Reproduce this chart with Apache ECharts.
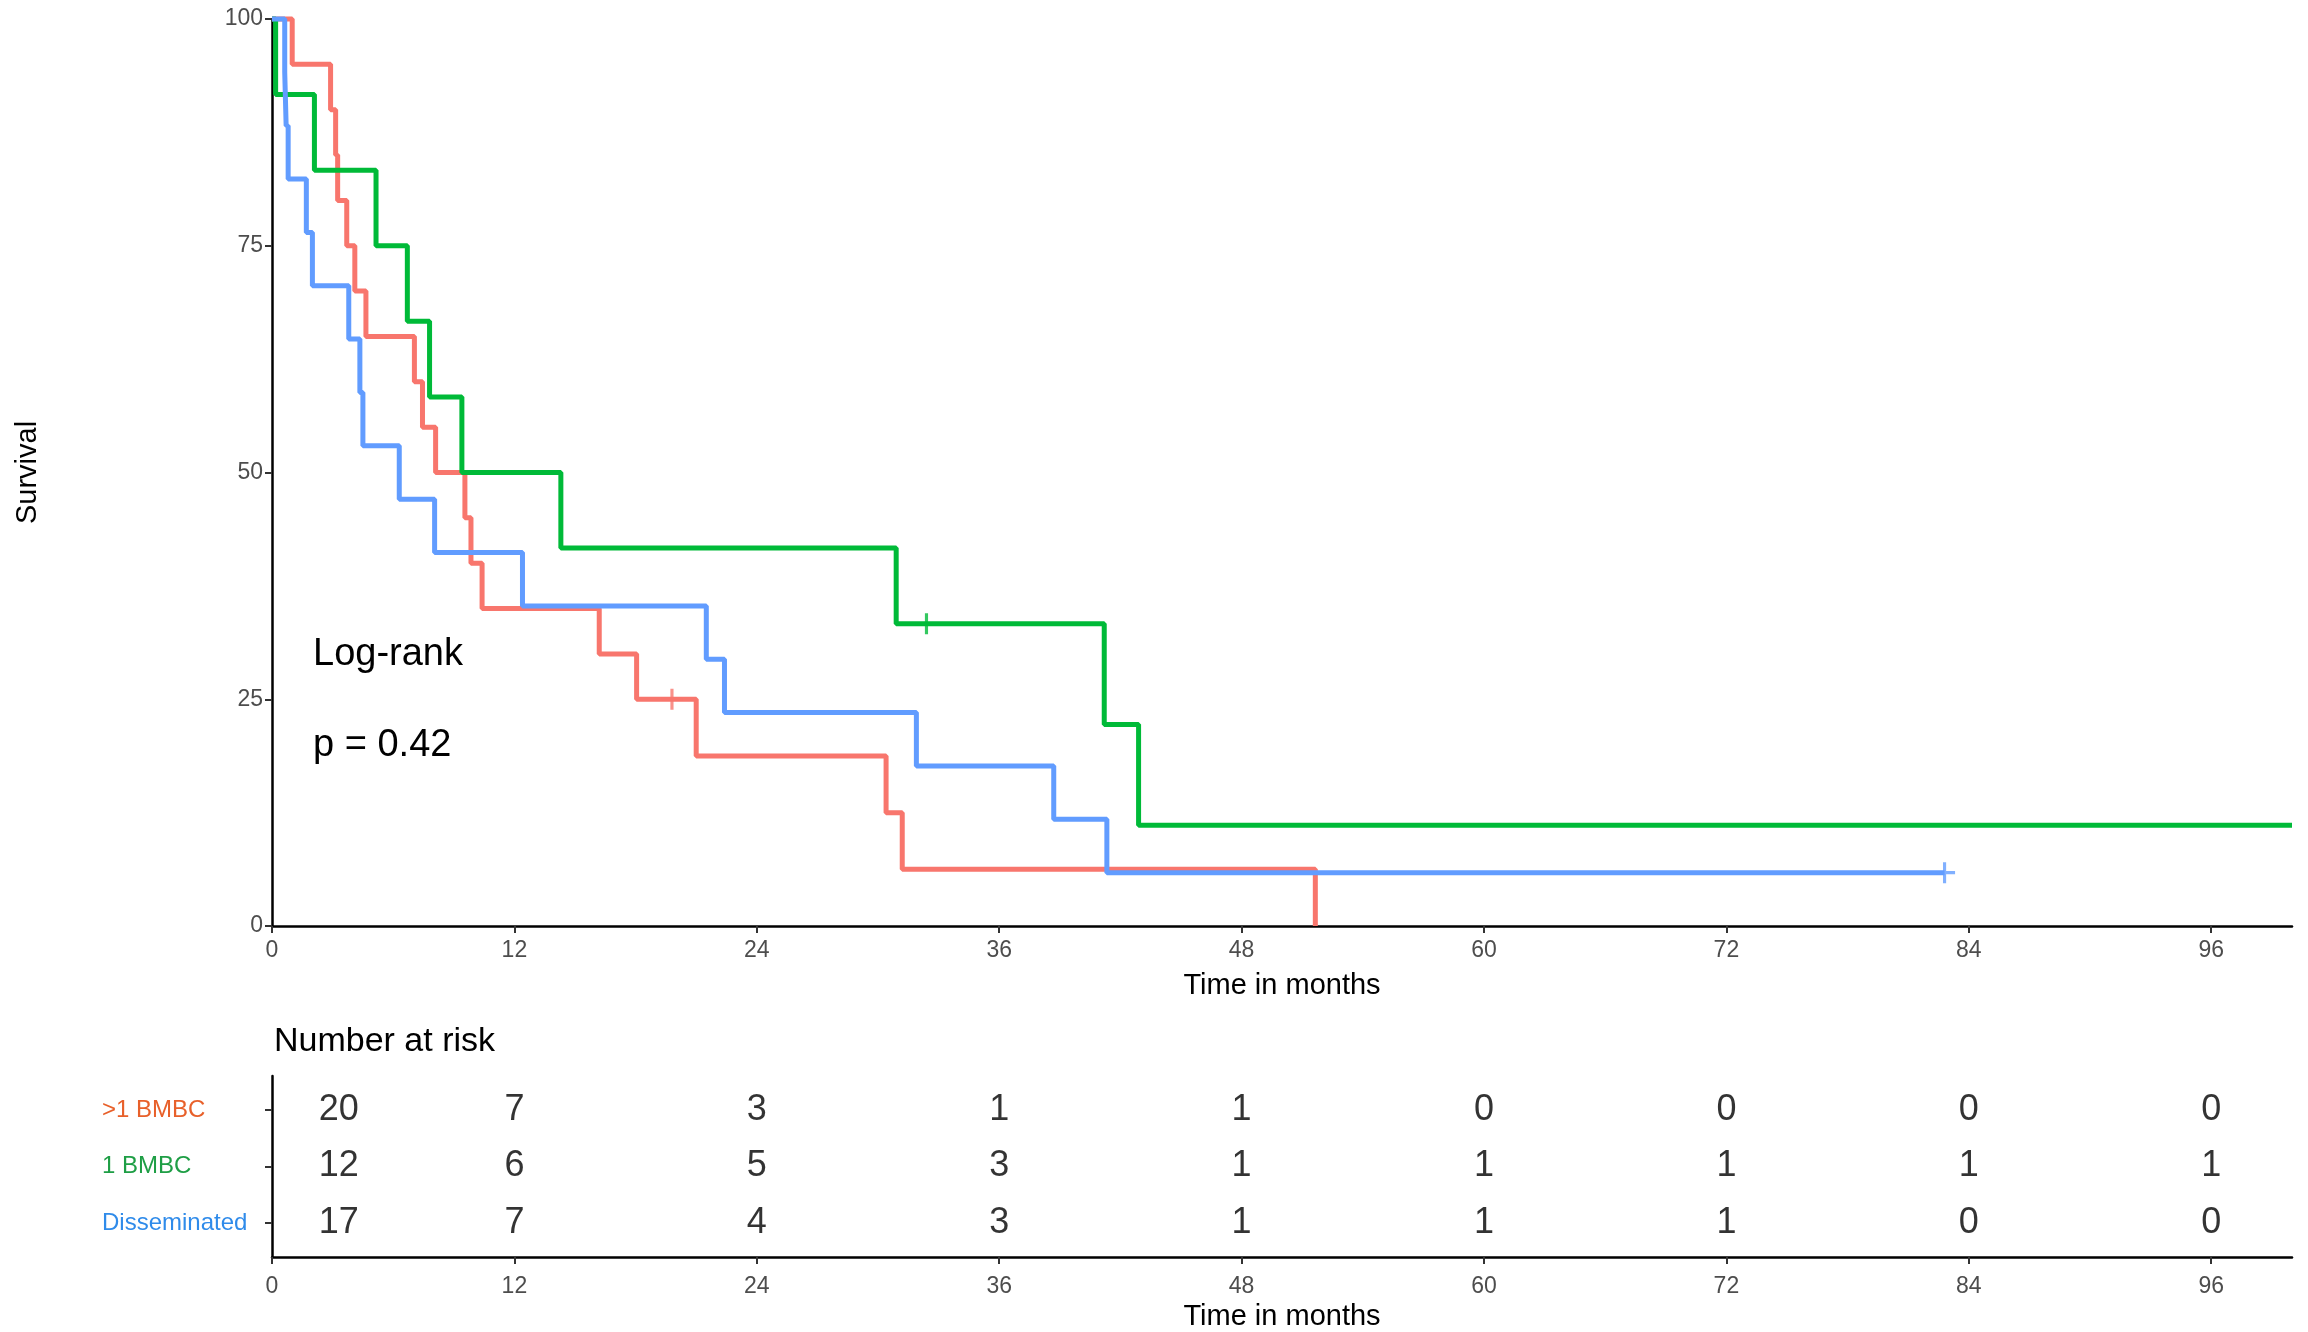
<!DOCTYPE html>
<html>
<head>
<meta charset="utf-8">
<script src="https://cdn.jsdelivr.net/npm/echarts@6/dist/echarts.min.js"></script>
<style>
  html, body { margin: 0; padding: 0; background: #fff; }
  #chart { width: 2308px; height: 1332px; }
</style>
</head>
<body>
<div id="chart"></div>
<script>
// Kaplan-Meier steps: [month, survival %] after each drop
const stepsMulti = [[0,100],[1.0,95],[2.9,90],[3.15,85],[3.25,80],[3.7,75],[4.1,70],[4.65,65],
  [7.05,60],[7.45,55],[8.1,50],[9.55,45],[9.85,40],[10.4,35],[16.2,30],[18.05,25],[21.0,18.75],
  [30.4,12.5],[31.2,6.25],[51.65,0]]
const stepsSingle = [[0,100],[0.18,91.67],[2.1,83.33],[5.15,75],[6.7,66.67],[7.8,58.33],[9.4,50],
  [14.3,41.67],[30.9,33.33],[41.2,22.22],[42.9,11.11],[100,11.11]]
const stepsDissem = [[0,100],[0.63,94.12],[0.7,88.24],[0.8,82.35],[1.7,76.47],[2.0,70.59],[3.8,64.71],
  [4.35,58.82],[4.5,52.94],[6.3,47.06],[8.05,41.18],[12.4,35.29],[21.5,29.41],[22.4,23.53],
  [31.9,17.65],[38.7,11.76],[41.33,5.88],[82.8,5.88]]

// censored observations
const censorMulti = [[19.8,25]]
const censorSingle = [[32.4,33.33]]
const censorDissem = [[82.8,5.88]]

// number at risk table (row 3 = top)
const groups = ['>1 BMBC', '1 BMBC', 'Disseminated']
const groupRow = [3, 2, 1]
const riskX = [3.3, 12, 24, 36, 48, 60, 72, 84, 96]
const riskMulti = [20, 7, 3, 1, 1, 0, 0, 0, 0]
const riskSingle = [12, 6, 5, 3, 1, 1, 1, 1, 1]
const riskDissem = [17, 7, 4, 3, 1, 1, 1, 0, 0]

const xTicks = [0, 12, 24, 36, 48, 60, 72, 84, 96]
const yTicks = [0, 25, 50, 75, 100]

const curveColors = ['#F8766D', '#00BA38', '#619CFF']
const labelColors = ['#E8602A', '#1E9E45', '#2F8BEA']

const plus = 'path://M-1.2,-8H1.2V-1.2H8V1.2H1.2V8H-1.2V1.2H-8V-1.2H-1.2Z'
const font = 'Liberation Sans, Arial, sans-serif'

const axisLine = { show: true, lineStyle: { color: '#000', width: 2.5 } }
const axisTick = { show: true, length: 7, lineStyle: { color: '#333', width: 2 } }

const xAxisFor = (grid, gap, labelMargin) => ({
    gridIndex: grid,
    type: 'value',
    min: 0,
    max: 100,
    interval: 12,
    name: 'Time in months',
    nameLocation: 'middle',
    nameGap: gap,
    nameTextStyle: { fontFamily: font, fontSize: 29, color: '#000' },
    axisLine: axisLine,
    axisTick: Object.assign({ customValues: xTicks }, axisTick),
    axisLabel: { customValues: xTicks, fontFamily: font, fontSize: 23, color: '#4D4D4D', margin: labelMargin },
    splitLine: { show: false }
})

const stepSeries = (name, data, color) => ({
    name: name,
    type: 'line',
    step: 'end',
    data: data,
    showSymbol: false,
    clip: false,
    lineStyle: { color: color, width: 5 },
    xAxisIndex: 0,
    yAxisIndex: 0,
    z: 3
})

const censorSeries = (data, color) => ({
    type: 'scatter',
    data: data,
    symbol: plus,
    symbolSize: 21,
    itemStyle: { color: color },
    xAxisIndex: 0,
    yAxisIndex: 0,
    z: 4
})

const riskRows = [riskMulti, riskSingle, riskDissem]
const riskData = []
riskRows.forEach((row, g) => {
    row.forEach((n, i) => riskData.push([riskX[i], groupRow[g], n]))
})

const rowName = (v) => groups[groupRow.indexOf(Number(v))] || ''

const option = {
    animation: false,
    backgroundColor: '#fff',
    grid: [
        { left: 272, top: 19, width: 2020, height: 907 },
        { left: 272, top: 1076, width: 2020, height: 189 }
    ],
    xAxis: [
        xAxisFor(0, 45, 13),
        xAxisFor(1, 45, 18)
    ],
    yAxis: [
        {
            gridIndex: 0,
            type: 'value',
            min: 0,
            max: 100,
            interval: 25,
            name: 'Survival',
            nameLocation: 'middle',
            nameRotate: 90,
            nameGap: 230,
            nameTextStyle: { fontFamily: font, fontSize: 29, color: '#000' },
            axisLine: axisLine,
            axisTick: axisTick,
            axisLabel: { customValues: yTicks, fontFamily: font, fontSize: 23, color: '#4D4D4D', margin: 9 },
            splitLine: { show: false }
        },
        {
            gridIndex: 1,
            type: 'value',
            min: 0.4,
            max: 3.6,
            axisLine: axisLine,
            axisTick: Object.assign({ customValues: groupRow }, axisTick),
            axisLabel: {
                customValues: groupRow,
                formatter: rowName,
                fontFamily: font,
                fontSize: 24,
                align: 'left',
                margin: 170,
                color: (v) => labelColors[groupRow.indexOf(Number(v))]
            },
            splitLine: { show: false }
        }
    ],
    graphic: [
        { type: 'text', left: 313, top: 636, style: { text: 'Log-rank', fontFamily: font, fontSize: 38, fill: '#000' } },
        { type: 'text', left: 313, top: 727, style: { text: 'p = 0.42', fontFamily: font, fontSize: 38, fill: '#000' } },
        { type: 'text', left: 274, top: 1025, style: { text: 'Number at risk', fontFamily: font, fontSize: 34, fill: '#000' } }
    ],
    series: [
        stepSeries('>1 BMBC', stepsMulti, curveColors[0]),
        stepSeries('1 BMBC', stepsSingle, curveColors[1]),
        stepSeries('Disseminated', stepsDissem, curveColors[2]),
        censorSeries(censorMulti, curveColors[0]),
        censorSeries(censorSingle, curveColors[1]),
        censorSeries(censorDissem, curveColors[2]),
        {
            type: 'scatter',
            xAxisIndex: 1,
            yAxisIndex: 1,
            data: riskData,
            symbolSize: 1,
            itemStyle: { color: 'rgba(0,0,0,0)' },
            label: {
                show: true,
                position: 'inside',
                formatter: (p) => String(p.value[2]),
                fontFamily: font,
                fontSize: 36,
                color: '#000',
                textBorderWidth: 0
            }
        }
    ]
}

const chart = echarts.init(document.getElementById('chart'))
chart.setOption(option)
</script>
</body>
</html>
